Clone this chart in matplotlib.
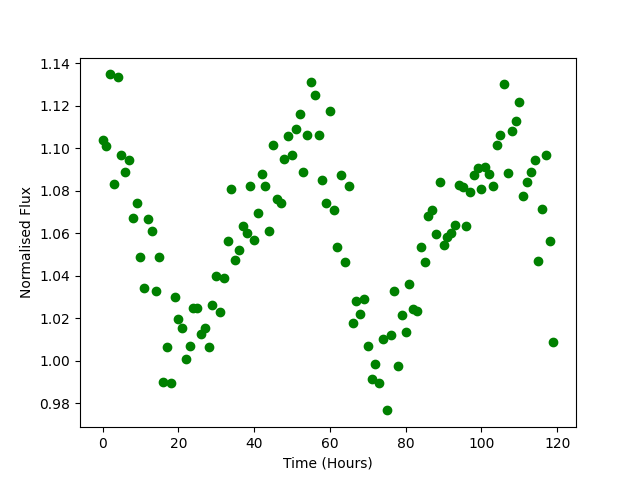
import numpy as np
import matplotlib
matplotlib.use("Agg")
import matplotlib.pyplot as plt

hours = list(range(120))
flux = [
    1.1040, 1.1010, 1.1347, 1.0830, 1.1336, 1.0970, 1.0890, 1.0945, 1.0670, 1.0740,
    1.0486, 1.0340, 1.0666, 1.0610, 1.0326, 1.0490, 0.9899, 1.0062, 0.9894, 1.0300,
    1.0194, 1.0156, 1.0007, 1.0067, 1.0250, 1.0250, 1.0125, 1.0156, 1.0062, 1.0261,
    1.0398, 1.0227, 1.0388, 1.0561, 1.0810, 1.0476, 1.0519, 1.0632, 1.0599, 1.0820,
    1.0570, 1.0693, 1.0876, 1.0824, 1.0608, 1.1017, 1.0760, 1.0744, 1.0947, 1.1055,
    1.0970, 1.1088, 1.1159, 1.0886, 1.1061, 1.1309, 1.1248, 1.1061, 1.0848, 1.0744,
    1.1177, 1.0707, 1.0533, 1.0872, 1.0462, 1.0820, 1.0176, 1.0279, 1.0219, 1.0288,
    1.0067, 0.9916, 0.9982, 0.9893, 1.0104, 0.9766, 1.0123, 1.0330, 0.9973, 1.0213,
    1.0133, 1.0363, 1.0241, 1.0236, 1.0537, 1.0462, 1.0683, 1.0707, 1.0594, 1.0843,
    1.0542, 1.0580, 1.0600, 1.0640, 1.0827, 1.0815, 1.0635, 1.0792, 1.0872, 1.0907,
    1.0806, 1.0910, 1.0876, 1.0820, 1.1013, 1.1060, 1.1304, 1.0881, 1.1079, 1.1130,
    1.1215, 1.0777, 1.0843, 1.0890, 1.0942, 1.0467, 1.0712, 1.0966, 1.0561, 1.0086,
]

fig, ax = plt.subplots(figsize=(6.4, 4.8), dpi=100)
ax.plot(hours, flux, 'o', color='green')
ax.set_xlabel('Time (Hours)')
ax.set_ylabel('Normalised Flux')
fig.savefig('out.png')
